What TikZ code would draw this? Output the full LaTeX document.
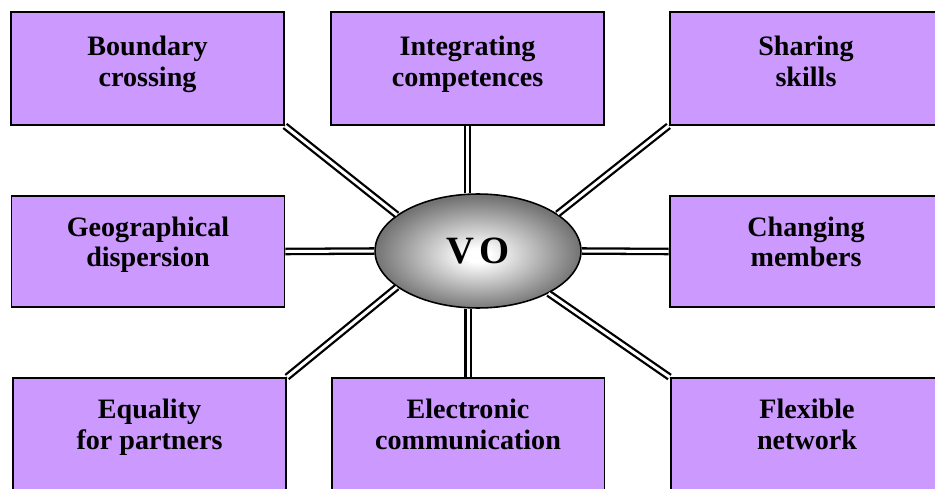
\documentclass[tikz,border=0pt]{standalone}
\usepackage{fontspec}
\setmainfont{Liberation Serif}
\usetikzlibrary{shapes.geometric}
\definecolor{cBox}{HTML}{CC99FF}
\pgfdeclareradialshading{voshade}{\pgfpoint{0bp}{-2bp}}{color(0bp)=(white); color(3bp)=(white);
  color(25bp)=(black!55); color(50bp)=(black!55)}

\begin{document}
\begin{tikzpicture}[
  x=0.02cm, y=-0.02cm,
  box/.style={rectangle, draw=black, fill=cBox, line width=1.1pt,
    minimum width=5.46cm, minimum height=2.26cm, align=center, inner sep=0pt,
    text height=24.6pt, text depth=4pt,
    font=\fontsize{16}{17.6}\selectfont\bfseries},
  midbox/.style={box, minimum height=2.22cm, text height=21.6pt},
  lowbox/.style={box, text height=20.8pt},
  hub/.style={ellipse, draw=black, line width=0.9pt, shade, shading=voshade,
    minimum width=4.12cm, minimum height=2.28cm, inner sep=0pt,
    font=\fontsize{22}{26}\selectfont\bfseries},
  link/.style={draw=black, double=white, double distance=1.7pt, line width=1.3pt}
]
  \useasboundingbox (0,0) rectangle (935,489);
  \clip (0,0) rectangle (935,489);

  % outer boxes
  \node[box] (bc) at (147.5,68.5) {Boundary\\crossing};
  \node[box] (ic) at (467.5,68.5) {Integrating\\competences};
  \node[box] (ss) at (806,68.5) {Sharing\\skills};
  \node[midbox] (gd) at (148,251.5) {Geographical\\dispersion};
  \node[midbox] (cm) at (806,251.5) {Changing\\members};
  \node[lowbox] (ep) at (149.5,434.5) {Equality\\for partners};
  \node[lowbox] (ec) at (468,434.5) {Electronic\\communication};
  \node[lowbox] (fn) at (807,434.5) {Flexible\\network};

  % centre
  \node[hub] (vo) at (478,251) {V\kern3pt O};

  \draw[link] (bc.south east) -- (vo.156);
  \draw[link] (ic.south) -- (ic.south |- vo.north);
  \draw[link] (ss.south west) -- (vo.25);
  \draw[link] (gd.east) -- (vo.west);
  \draw[link] (cm.west) -- (vo.east);
  \draw[link] (ep.north east) -- (vo.204);
  \draw[link] (ec.north) -- (ec.north |- vo.south);
  \draw[link] (fn.north west) -- (vo.329);

\end{tikzpicture}
\end{document}
